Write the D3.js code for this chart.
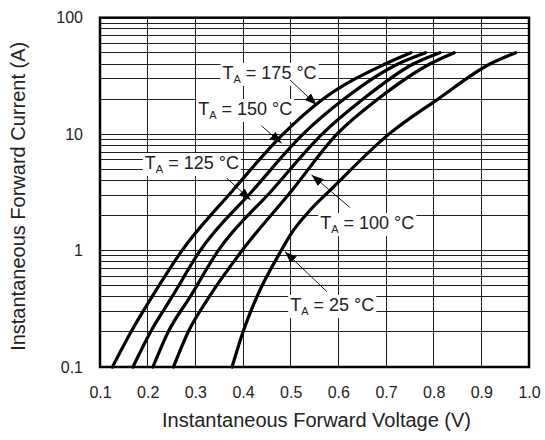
<!DOCTYPE html>
<html><head><meta charset="utf-8">
<script src="https://cdn.jsdelivr.net/npm/d3@7"></script>
<style>
body{margin:0;background:#fff}
svg{display:block}
text{font-family:"Liberation Sans",Arial,Helvetica,sans-serif;fill:#222}
</style>
</head><body>
<svg id="chart" width="545" height="440"></svg>
<script>
// ---- data ----
const xTickValues = [0.1,0.2,0.3,0.4,0.5,0.6,0.7,0.8,0.9,1.0];
const xTickLabels = ["0.1","0.2","0.3","0.4","0.5","0.6","0.7","0.8","0.9","1.0"];
const yTickValues = [0.1,1,10,100];
const yTickLabels = ["0.1","1","10","100"];

const curveT175 = [[0.126,0.1],[0.165,0.2],[0.209,0.4],[0.272,1],[0.379,3.3],[0.484,10],[0.568,20],[0.698,40],[0.752,50]];
const curveT150 = [[0.169,0.1],[0.206,0.2],[0.251,0.4],[0.310,1],[0.421,3.3],[0.526,10],[0.612,20],[0.725,40],[0.783,50]];
const curveT125 = [[0.211,0.1],[0.243,0.2],[0.289,0.4],[0.348,1],[0.461,3.3],[0.566,10],[0.652,20],[0.757,40],[0.813,50]];
const curveT100 = [[0.254,0.1],[0.285,0.2],[0.329,0.4],[0.398,1],[0.503,3.3],[0.597,10],[0.683,20],[0.792,40],[0.843,50]];
const curveT25  = [[0.377,0.1],[0.400,0.2],[0.429,0.4],[0.480,1],[0.499,1.36],[0.541,2.23],[0.583,3.3],[0.706,10],[0.809,20],[0.918,40],[0.972,50]];

const temps = ["175","150","125","100","25"];
// label anchors (V, I) and arrow (from V,I -> tip V,I)
const labelPos = [[0.357,29.8],[0.306,14.6],[0.194,5.02],[0.562,1.53],[0.499,0.303]];
const arrowFrom = [[0.4986,29.2],[0.439,11.76],[0.366,4.18],[0.624,2.35],[0.576,0.444]];
const arrowTip  = [[0.5546,17.8],[0.481,8.35],[0.416,2.72],[0.544,4.46],[0.488,0.979]];

const xTitle = "Instantaneous Forward Voltage (V)";
const yTitle = "Instantaneous Forward Current (A)";

// ---- chart ----
const svg = d3.select("#chart");
const L = 100, R = 529, T = 17.7, B = 367;
const x = d3.scaleLinear().domain([0.1,1.0]).range([L,R]);
const y = d3.scaleLog().domain([0.1,100]).range([B,T]);

// minor grid values
const gridY = [];
[0.1,1,10].forEach(d => { for (let k=1;k<=9;k++) gridY.push(+(k*d).toPrecision(3)); });
gridY.push(100);

const grid = svg.append("g").attr("shape-rendering","crispEdges");
grid.selectAll("line.h").data(gridY).join("line")
  .attr("x1",L).attr("x2",R).attr("y1",d=>y(d)).attr("y2",d=>y(d))
  .attr("stroke","#1e1e1e").attr("stroke-width",1);
grid.selectAll("line.v").data(xTickValues).join("line")
  .attr("y1",T).attr("y2",B).attr("x1",d=>x(d)).attr("x2",d=>x(d))
  .attr("stroke","#1e1e1e").attr("stroke-width",1);

// axes with labels only
const xAxis = d3.axisBottom(x).tickValues(xTickValues).tickFormat((d,i)=>xTickLabels[i]).tickSize(0).tickPadding(0);
const gx = svg.append("g").attr("transform",`translate(0,${B})`).call(xAxis);
gx.select(".domain").remove();
gx.selectAll("text").attr("font-size","16px").attr("dy",null).attr("y",31).attr("fill","#222")
  .attr("font-family",'"Liberation Sans",Arial,sans-serif');

const yAxis = d3.axisLeft(y).tickValues(yTickValues).tickFormat((d,i)=>yTickLabels[i]).tickSize(0).tickPadding(17);
const gy = svg.append("g").attr("transform",`translate(${L},0)`).call(yAxis);
gy.select(".domain").remove();
gy.selectAll("text").attr("font-size","16px").attr("fill","#222")
  .attr("font-family",'"Liberation Sans",Arial,sans-serif');

// curves
const line = d3.line().x(d=>x(d[0])).y(d=>y(d[1])).curve(d3.curveMonotoneX);
const curves = [curveT175,curveT150,curveT125,curveT100,curveT25];
svg.append("g").selectAll("path").data(curves).join("path")
  .attr("d",line).attr("fill","none").attr("stroke","#000").attr("stroke-width",3.2)
  .attr("stroke-linecap","round");

// border
svg.append("rect").attr("x",L).attr("y",T).attr("width",R-L).attr("height",B-T)
  .attr("fill","none").attr("stroke","#000").attr("stroke-width",2.5);

// arrow marker
svg.append("defs").append("marker").attr("id","ah")
  .attr("markerUnits","userSpaceOnUse").attr("markerWidth",13).attr("markerHeight",9)
  .attr("refX",12).attr("refY",4.5).attr("orient","auto")
  .append("path").attr("d","M0,0 L12,4.5 L0,9 Z").attr("fill","#000");

// labels
const ann = svg.append("g");
temps.forEach((t,i)=>{
  const g = ann.append("g");
  const txt = g.append("text").attr("x",x(labelPos[i][0])).attr("y",y(labelPos[i][1]))
    .attr("font-size","18px");
  txt.append("tspan").text("T");
  txt.append("tspan").text("A").attr("font-size","11px").attr("dy",4);
  txt.append("tspan").text(` = ${t} °C`).attr("dy",-4);
  const bb = txt.node().getBBox();
  g.insert("rect","text").attr("x",bb.x-2).attr("y",bb.y).attr("width",bb.width+4).attr("height",bb.height+1)
    .attr("fill","#fff");
  ann.append("line")
    .attr("x1",x(arrowFrom[i][0])).attr("y1",y(arrowFrom[i][1]))
    .attr("x2",x(arrowTip[i][0])).attr("y2",y(arrowTip[i][1]))
    .attr("stroke","#000").attr("stroke-width",0.9).attr("marker-end","url(#ah)");
});

// titles
svg.append("text").attr("x",(L+R)/2+2).attr("y",427).attr("text-anchor","middle")
  .attr("font-size","20px").text(xTitle);
svg.append("text").attr("transform",`translate(25,${(T+B)/2+4}) rotate(-90)`).attr("text-anchor","middle")
  .attr("font-size","20px").text(yTitle);
</script>
</body></html>
